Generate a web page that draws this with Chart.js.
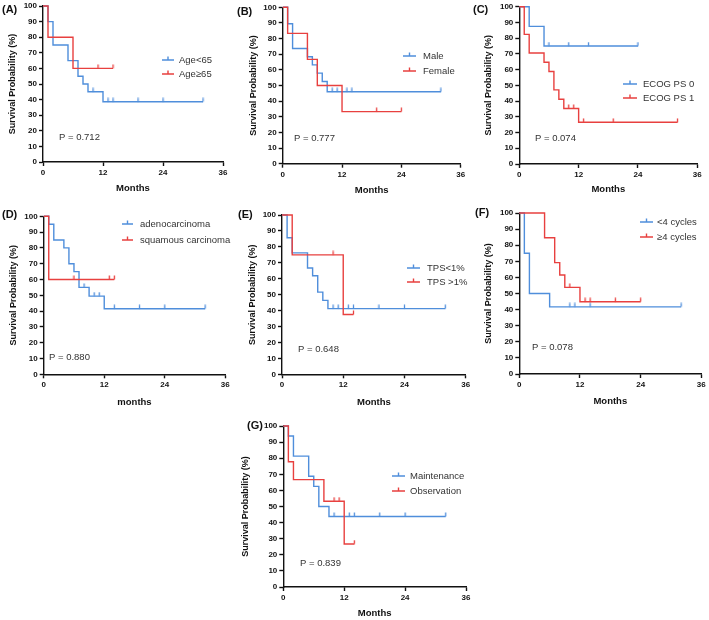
<!DOCTYPE html>
<html lang="en">
<head>
<meta charset="UTF-8">
<title>Survival curves by subgroup</title>
<script src="https://cdn.jsdelivr.net/npm/chart.js"></script>
<style>
  body { margin: 0; background: #fff; }
  #wrap { position: relative; width: 709px; height: 620px; overflow: hidden; }
  #wrap canvas { position: absolute; }
</style>
</head>
<body>
<div id="wrap"></div>
<script>
const FONT = '"Liberation Sans", Arial, sans-serif';
const BLUE = '#4f8edb';
const RED = '#e8403f';

const xTicks = [0, 12, 24, 36];
const yTicks = [0, 10, 20, 30, 40, 50, 60, 70, 80, 90, 100];

// (A) age
const ageLt65Times = [0, 1, 2, 5, 7, 8, 9, 12, 32];
const ageLt65Surv = [100, 90, 75, 65, 55, 50, 45, 38.6, 38.6];
const ageLt65Censor = [10, 13, 14, 19, 24, 32];
const ageGe65Times = [0, 1, 6, 14];
const ageGe65Surv = [100, 80, 60, 60];
const ageGe65Censor = [11, 14];

// (B) sex
const maleTimes = [0, 1, 2, 5, 6, 7, 8, 9, 32];
const maleSurv = [100, 89.5, 73.7, 68.4, 63.2, 57.9, 52.6, 46, 46];
const maleCensor = [10, 11, 13, 14, 32];
const femaleTimes = [0, 1, 5, 7, 12, 24];
const femaleSurv = [100, 83.3, 66.7, 50, 33.3, 33.3];
const femaleCensor = [19, 24];

// (C) ECOG
const ecog0Times = [0, 2, 5, 24];
const ecog0Surv = [100, 87.5, 75, 75];
const ecog0Censor = [6, 10, 14, 24];
const ecog1Times = [0, 1, 2, 5, 6, 7, 8, 9, 12, 32];
const ecog1Surv = [100, 82.4, 70.6, 64.7, 58.8, 47.1, 41.2, 35.3, 26.5, 26.5];
const ecog1Censor = [10, 11, 13, 19, 32];

// (D) histology
const adenoTimes = [0, 1, 2, 4, 5, 6, 7, 9, 12, 32];
const adenoSurv = [100, 95, 85, 80, 70, 65, 55, 49.5, 41.5, 41.5];
const adenoCensor = [8, 10, 11, 14, 19, 24, 32];
const squamTimes = [0, 1, 14];
const squamSurv = [100, 60, 60];
const squamCensor = [6, 13, 14];

// (E) TPS
const tpsLowTimes = [0, 1, 2, 5, 6, 7, 8, 9, 32];
const tpsLowSurv = [100, 85.7, 76.2, 66.7, 61.9, 51.6, 46.4, 41.2, 41.2];
const tpsLowCensor = [10, 11, 13, 14, 19, 24, 32];
const tpsHighTimes = [0, 2, 12, 14];
const tpsHighSurv = [100, 75, 37.5, 37.5];
const tpsHighCensor = [10, 14];

// (F) cycles
const cyclesLtTimes = [0, 1, 2, 6, 32];
const cyclesLtSurv = [100, 75, 50, 41.7, 41.7];
const cyclesLtCensor = [10, 11, 14, 32];
const cyclesGeTimes = [0, 5, 7, 8, 9, 12, 24];
const cyclesGeSurv = [100, 84.6, 69.2, 61.5, 53.8, 44.9, 44.9];
const cyclesGeCensor = [10, 13, 14, 19, 24];

// (G) maintenance
const maintTimes = [0, 1, 2, 5, 6, 7, 9, 32];
const maintSurv = [100, 93.8, 81.3, 68.8, 62.5, 50, 43.8, 43.8];
const maintCensor = [10, 13, 14, 19, 24, 32];
const obsTimes = [0, 1, 2, 8, 12, 14];
const obsSurv = [100, 77.8, 66.7, 53.3, 26.7, 26.7];
const obsCensor = [10, 11, 14];

const panels = [
  { id: 'A', label: '(A)', xTitle: 'Months', p: 'P = 0.712',
    blue: ['Age<65', ageLt65Times, ageLt65Surv, ageLt65Censor],
    red: ['Age\u226565', ageGe65Times, ageGe65Surv, ageGe65Censor],
    box: [0, 0, 235, 200], area: [43, 223, 6, 162], yt: 13, xt: 188,
    labelAt: [2, 10], leg: [162, 174, 179, 60, 74], pAt: [59, 137] },
  { id: 'B', label: '(B)', xTitle: 'Months', p: 'P = 0.777',
    blue: ['Male', maleTimes, maleSurv, maleCensor],
    red: ['Female', femaleTimes, femaleSurv, femaleCensor],
    box: [235, 0, 235, 200], area: [47.7, 225.7, 7.3, 163.7], yt: 19, xt: 190,
    labelAt: [2, 12], leg: [168, 181, 188, 56, 71], pAt: [59, 138] },
  { id: 'C', label: '(C)', xTitle: 'Months', p: 'P = 0.074',
    blue: ['ECOG PS 0', ecog0Times, ecog0Surv, ecog0Censor],
    red: ['ECOG PS 1', ecog1Times, ecog1Surv, ecog1Censor],
    box: [470, 0, 239, 200], area: [49.3, 227.3, 6.7, 164], yt: 19, xt: 189,
    labelAt: [3, 10], leg: [153, 167, 173, 84, 98], pAt: [65, 138] },
  { id: 'D', label: '(D)', xTitle: 'months', p: 'P = 0.880',
    blue: ['adenocarcinoma', adenoTimes, adenoSurv, adenoCensor],
    red: ['squamous carcinoma', squamTimes, squamSurv, squamCensor],
    box: [0, 200, 235, 210], area: [43.7, 225.3, 16.3, 174.3], yt: 14, xt: 202,
    labelAt: [2, 15], leg: [122, 133, 140, 24, 40], pAt: [49, 157] },
  { id: 'E', label: '(E)', xTitle: 'Months', p: 'P = 0.648',
    blue: ['TPS<1%', tpsLowTimes, tpsLowSurv, tpsLowCensor],
    red: ['TPS >1%', tpsHighTimes, tpsHighSurv, tpsHighCensor],
    box: [235, 200, 240, 210], area: [47, 230.7, 15, 174.3], yt: 17.5, xt: 202,
    labelAt: [3, 15], leg: [172, 185, 192, 68, 82], pAt: [63, 149] },
  { id: 'F', label: '(F)', xTitle: 'Months', p: 'P = 0.078',
    blue: ['<4 cycles', cyclesLtTimes, cyclesLtSurv, cyclesLtCensor],
    red: ['\u22654 cycles', cyclesGeTimes, cyclesGeSurv, cyclesGeCensor],
    box: [470, 200, 239, 210], area: [49.3, 231.3, 13, 174], yt: 19, xt: 201,
    labelAt: [5, 13], leg: [170, 183, 187, 22, 37], pAt: [62, 147] },
  { id: 'G', label: '(G)', xTitle: 'Months', p: 'P = 0.839',
    blue: ['Maintenance', maintTimes, maintSurv, maintCensor],
    red: ['Observation', obsTimes, obsSurv, obsCensor],
    box: [230, 410, 260, 210], area: [53.3, 236, 16, 177], yt: 16, xt: 203,
    labelAt: [17, 16], leg: [162, 175, 180, 66, 81], pAt: [70, 153] }
];

// censor mark: short vertical tick pointing up from the curve
function censorMark(color) {
  const c = document.createElement('canvas');
  c.width = 3; c.height = 9;
  const g = c.getContext('2d');
  g.strokeStyle = color;
  g.lineWidth = 1.3;
  g.beginPath();
  g.moveTo(1.5, 0.5);
  g.lineTo(1.5, 4.5);
  g.stroke();
  return c;
}
const blueMark = censorMark(BLUE);
const redMark = censorMark(RED);

function survAt(times, surv, t) {
  let v = surv[0];
  times.forEach((tt, i) => { if (tt <= t) v = surv[i]; });
  return v;
}

function curveSets(series, color, mark) {
  const [name, times, surv, censor] = series;
  return [
    {
      label: name,
      data: times.map((t, i) => ({ x: t, y: surv[i] })),
      borderColor: color,
      borderWidth: 1.4,
      stepped: 'before',
      pointRadius: 0,
      fill: false,
      clip: false
    },
    {
      label: name + ' censored',
      data: censor.map(t => ({ x: t, y: survAt(times, surv, t) })),
      showLine: false,
      pointStyle: mark,
      pointRadius: 4,
      clip: false
    }
  ];
}

const annotate = {
  id: 'annotate',
  afterDraw(chart, args, o) {
    const ctx = chart.ctx;
    ctx.save();
    ctx.fillStyle = '#111';
    ctx.textBaseline = 'middle';
    ctx.textAlign = 'left';
    ctx.font = 'bold 11px ' + FONT;
    ctx.fillText(o.label, o.labelAt[0], o.labelAt[1]);

    ctx.font = '9.5px ' + FONT;
    ctx.fillStyle = '#333';
    ctx.fillText(o.p, o.pAt[0], o.pAt[1]);

    const [x1, x2, tx, y1, y2] = o.leg;
    [[BLUE, o.names[0], y1], [RED, o.names[1], y2]].forEach(([col, txt, y]) => {
      ctx.strokeStyle = col;
      ctx.lineWidth = 1.4;
      ctx.beginPath();
      ctx.moveTo(x1, y);
      ctx.lineTo(x2, y);
      const mid = (x1 + x2) / 2;
      ctx.moveTo(mid, y);
      ctx.lineTo(mid, y - 3.5);
      ctx.stroke();
      ctx.fillStyle = '#333';
      ctx.fillText(txt, tx, y + 0.5);
    });
    ctx.restore();
  }
};

const wrap = document.getElementById('wrap');

panels.forEach(pn => {
  const [left, top, w, h] = pn.box;
  const [L, R, T, B] = pn.area;
  const cv = document.createElement('canvas');
  cv.id = 'panel' + pn.id;
  cv.width = w; cv.height = h;
  cv.style.left = left + 'px';
  cv.style.top = top + 'px';
  cv.style.width = w + 'px';
  cv.style.height = h + 'px';
  wrap.appendChild(cv);

  const axisFont = { family: FONT, size: 8, weight: 'bold' };
  const titleFont = { family: FONT, size: 9.5, weight: 'bold', lineHeight: 1.2 };
  const yTitleFont = { family: FONT, size: 9, weight: 'bold', lineHeight: 1.2 };

  new Chart(cv.getContext('2d'), {
    type: 'line',
    data: {
      datasets: [
        ...curveSets(pn.red, RED, redMark),
        ...curveSets(pn.blue, BLUE, blueMark)
      ]
    },
    options: {
      responsive: false,
      animation: false,
      devicePixelRatio: 1,
      layout: { padding: { left: 0, top: T, right: w - R, bottom: 0 } },
      plugins: {
        legend: { display: false },
        tooltip: { enabled: false },
        annotate: {
          label: pn.label, labelAt: pn.labelAt, p: pn.p, pAt: pn.pAt,
          leg: pn.leg, names: [pn.blue[0], pn.red[0]]
        }
      },
      scales: {
        x: {
          type: 'linear',
          min: 0, max: 36,
          afterBuildTicks: s => { s.ticks = xTicks.map(v => ({ value: v })); },
          afterFit: s => {
            s.height = h - B;
            s.paddingLeft = 0; s.paddingRight = 0; s.paddingTop = 0; s.paddingBottom = 0;
          },
          border: { display: true, color: '#111', width: 1.4 },
          grid: { drawOnChartArea: false, drawTicks: true, tickLength: 4, tickColor: '#111', tickWidth: 1.4 },
          ticks: { color: '#111', font: axisFont, padding: 2, maxRotation: 0 },
          title: { display: true, text: pn.xTitle, color: '#111', font: titleFont,
                   padding: { top: 0, bottom: h - pn.xt - 5.7 } }
        },
        y: {
          min: 0, max: 100,
          afterBuildTicks: s => { s.ticks = yTicks.map(v => ({ value: v })); },
          afterFit: s => {
            s.width = L;
            s.paddingLeft = 0; s.paddingRight = 0; s.paddingTop = 0; s.paddingBottom = 0;
          },
          border: { display: true, color: '#111', width: 1.4 },
          grid: { drawOnChartArea: false, drawTicks: true, tickLength: 4, tickColor: '#111', tickWidth: 1.4 },
          ticks: { color: '#111', font: axisFont, padding: 2 },
          title: { display: true, text: 'Survival Probability (%)', color: '#111', font: yTitleFont,
                   padding: { top: pn.yt - 5.4, bottom: 0 } }
        }
      }
    },
    plugins: [annotate]
  });
});
</script>
</body>
</html>
